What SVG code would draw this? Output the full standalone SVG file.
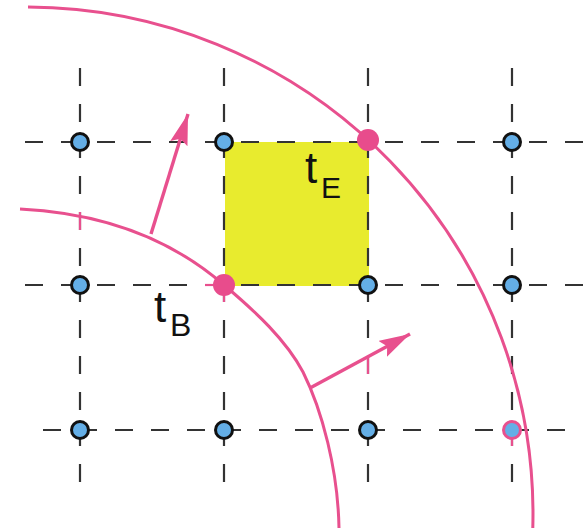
<svg xmlns="http://www.w3.org/2000/svg" width="586" height="528" viewBox="0 0 586 528">
<style>
.grid{stroke:#333;stroke-width:2.2;stroke-dasharray:18 18;fill:none}
.pk{stroke:#e8508e;stroke-width:2.2;fill:none}
.curve{stroke:#e8508e;stroke-width:3;fill:none}
.arrow{stroke:#e8508e;stroke-width:3.4;fill:none;marker-end:url(#ah)}
.node{fill:#64aee6;stroke:#111;stroke-width:3}
.pnode{fill:#e84c8c}
.lbl{font-family:"Liberation Sans",Arial,sans-serif;fill:#111}
</style>
<defs>
<marker id="ah" markerUnits="userSpaceOnUse" markerWidth="36" markerHeight="22" refX="31" refY="9" orient="auto">
<path d="M0,0 L31,9 L0,18 L5,9 Z" fill="#e8508e"/>
</marker>
</defs>
<rect width="586" height="528" fill="#fff"/>
<rect id="cell" x="225" y="142" width="144" height="144" fill="#e8eb2e"/>
<g id="grid">
<line class="grid" x1="80" y1="68" x2="80" y2="484"/>
<line class="grid" x1="224" y1="68" x2="224" y2="484"/>
<line class="grid" x1="368" y1="68" x2="368" y2="484"/>
<line class="grid" x1="512" y1="68" x2="512" y2="484"/>
<line class="grid" x1="25" y1="142" x2="583" y2="142"/>
<line class="grid" x1="25" y1="285" x2="583" y2="285"/>
<line class="grid" x1="43" y1="430" x2="565" y2="430"/>
<line class="pk" x1="80" y1="212" x2="80" y2="230"/>
<line class="pk" x1="368" y1="356" x2="368" y2="374"/>
<line class="pk" x1="205" y1="285" x2="223" y2="285"/>
<line class="pk" x1="224" y1="284" x2="224" y2="302"/>
<line class="pk" x1="512" y1="428" x2="512" y2="446"/>
</g>
<g id="connectors">
<path id="outer-front" class="curve" d="M28,7 A507,507 0 0 1 532.8,528"/>
<path id="inner-front" class="curve" d="M20,209 C100,213 170,238 224,285 C256,312 286,340 303,372 C322,410 338,470 339,528"/>
<line id="arrow1" class="arrow" x1="151" y1="234" x2="188" y2="114"/>
<line id="arrow2" class="arrow" x1="310" y1="388" x2="410" y2="334"/>
</g>
<g id="n-80-142"><circle class="node" cx="80" cy="142" r="8.5"/></g>
<g id="n-224-142"><circle class="node" cx="224" cy="142" r="8.5"/></g>
<g id="n-368-142"><circle class="pnode" cx="368" cy="140" r="11"/></g>
<g id="n-512-142"><circle class="node" cx="512" cy="142" r="8.5"/></g>
<g id="n-80-285"><circle class="node" cx="80" cy="285" r="8.5"/></g>
<g id="n-224-285"><circle class="pnode" cx="224" cy="285" r="11"/></g>
<g id="n-368-285"><circle class="node" cx="368" cy="285" r="8.5"/></g>
<g id="n-512-285"><circle class="node" cx="512" cy="285" r="8.5"/></g>
<g id="n-80-430"><circle class="node" cx="80" cy="430" r="8.5"/></g>
<g id="n-224-430"><circle class="node" cx="224" cy="430" r="8.5"/></g>
<g id="n-368-430"><circle class="node" cx="368" cy="430" r="8.5"/></g>
<g id="n-512-430"><circle class="node" cx="512" cy="430" r="8.5" style="stroke:#e8508e"/></g>
<g id="label-tE"><text class="lbl" x="305" y="183" font-size="44">t</text><text class="lbl" x="321" y="198" font-size="30">E</text></g>
<g id="label-tB"><text class="lbl" x="154" y="322" font-size="44">t</text><text class="lbl" x="170" y="336" font-size="32">B</text></g>
</svg>
